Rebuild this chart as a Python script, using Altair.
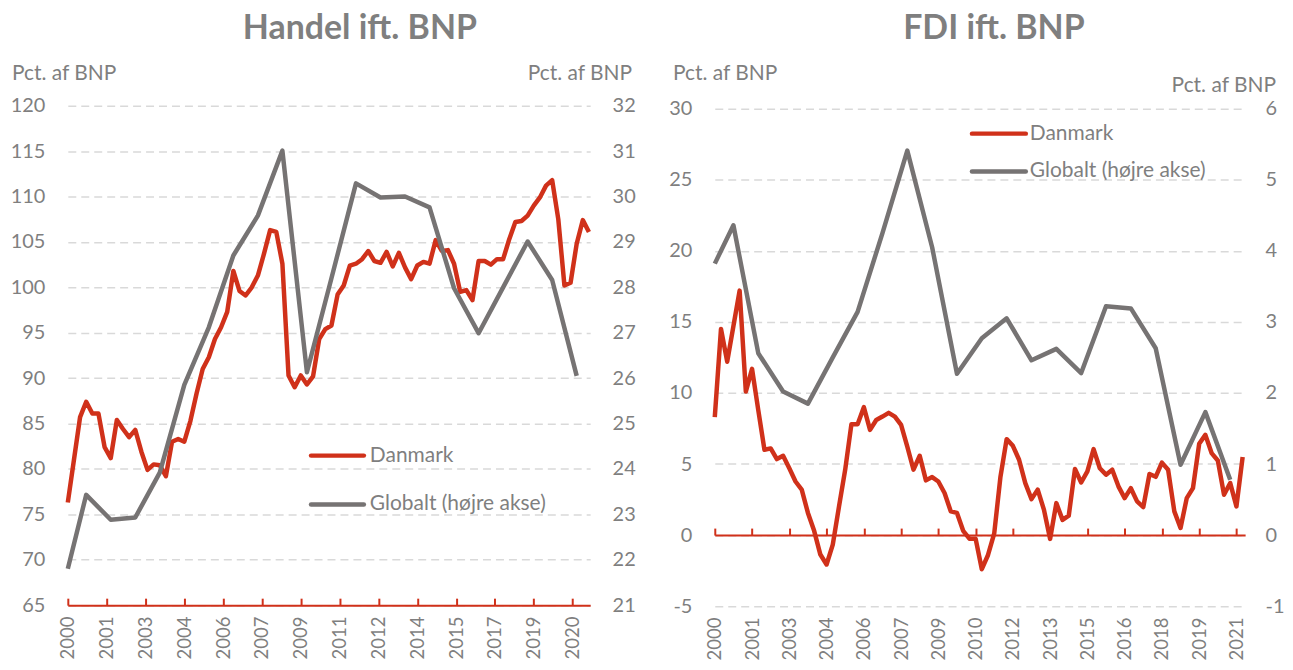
import altair as alt
import pandas as pd

# ---------------- data ----------------
# quarterly observations 2000K1 ... 2021K2 as decimal years
quarters = [2000 + i / 4 for i in range(86)]

handel_dk = [76.3, 81.0, 85.7, 87.4, 86.1, 86.1, 82.4, 81.2, 85.4, 84.4,
             83.5, 84.3, 81.9, 79.9, 80.5, 80.4, 79.2, 83.0, 83.3, 83.0,
             85.3, 88.3, 91.0, 92.3, 94.3, 95.6, 97.3, 101.8, 99.6, 99.1,
             100.0, 101.3, 103.7, 106.3, 106.1, 102.6, 90.3, 89.0, 90.3, 89.3,
             90.2, 94.3, 95.4, 95.8, 99.2, 100.2, 102.4, 102.6, 103.1, 104.0,
             102.9, 102.7, 103.9, 102.3, 103.8, 102.2, 100.9, 102.4, 102.8, 102.6,
             105.2, 104.0, 104.1, 102.6, 99.5, 99.7, 98.6, 102.9, 102.9, 102.5,
             103.1, 103.1, 105.3, 107.2, 107.3, 107.9, 109.0, 109.9, 111.2, 111.8,
             107.5, 100.2, 100.5, 104.8, 107.4, 106.1]

fdi_dk = [8.3, 14.5, 12.2, 14.7, 17.2, 10.1, 11.7, 8.8, 6.0, 6.1,
          5.35, 5.58, 4.7, 3.77, 3.2, 1.56, 0.3, -1.37, -2.07, -0.67,
          2.0, 4.6, 7.8, 7.8, 9.0, 7.4, 8.1, 8.34, 8.6, 8.34,
          7.75, 6.23, 4.6, 5.58, 3.85, 4.08, 3.77, 2.96, 1.67, 1.56,
          0.3, -0.25, -0.25, -2.4, -1.4, 0.12, 4.1, 6.75, 6.28, 5.3,
          3.66, 2.53, 3.2, 1.79, -0.27, 2.25, 1.07, 1.37, 4.65, 3.7,
          4.48, 6.05, 4.7, 4.25, 4.6, 3.43, 2.6, 3.3, 2.37, 1.97,
          4.3, 4.1, 5.1, 4.6, 1.67, 0.5, 2.6, 3.3, 6.42, 7.05,
          5.77, 5.25, 2.84, 3.66, 2.02, 5.5]

# annual global series, placed in the 4th quarter of each year
global_t = [2000.0, 2000.75, 2001.75, 2002.75, 2003.75, 2004.75, 2005.75,
            2006.75, 2007.75, 2008.75, 2009.75, 2010.75, 2011.75, 2012.75,
            2013.75, 2014.75, 2015.75, 2016.75, 2017.75, 2018.75, 2019.75,
            2020.75]
handel_gl = [21.8, 23.43, 22.88, 22.93, 23.92, 25.85, 27.12, 28.7, 29.58,
             31.01, 26.13, 28.2, 30.29, 29.98, 30.0, 29.76, 27.98, 26.99,
             28.0, 29.01, 28.16, 26.05]
fdi_gl = [3.82, 4.36, 2.56, 2.02, 1.85, 2.5, 3.14, 4.25, 5.41, 4.05, 2.27,
          2.77, 3.05, 2.46, 2.62, 2.28, 3.22, 3.19, 2.63, 0.99, 1.73, 0.78]

# x-axis tick positions (labels show the year)
ticks_handel = [2000.0, 2001.583, 2003.167, 2004.75, 2006.333, 2007.917,
                2009.5, 2011.083, 2012.667, 2014.25, 2015.833, 2017.417,
                2019.0, 2020.583]
ticks_fdi = [2000.0, 2001.5, 2003.0, 2004.5, 2006.0, 2007.5, 2009.0, 2010.5,
             2012.0, 2013.5, 2015.0, 2016.5, 2018.0, 2019.5, 2021.0]

titles = ["Handel ift. BNP", "FDI ift. BNP"]
axis_title = "Pct. af BNP"
series_names = ["Danmark", "Globalt (højre akse)"]

# ---------------- style ----------------
FONT = "Lato"
TXT = "#7f7f7f"
RED = "#d0311a"
GREY = "#767373"
GRID = "#d9d9d9"
NUM = "datum.value < 0 ? '-' + abs(datum.value) : '' + datum.value"
YEAR = "'' + floor(datum.value + 0.001)"
one = pd.DataFrame({"a": [0]})


def panel(dk, gl, W, H, yr, ldom, lvals, rdom, rvals, xdom, xvals, zero_off,
          title, title_x, lt_x, lt_y, rt_x, rt_y, leg_x1, leg_x2, leg_tx, leg_y,
          rpad):
    df_dk = pd.DataFrame({"t": quarters, "v": dk})
    df_gl = pd.DataFrame({"t": global_t, "v": gl})
    xs = alt.Scale(domain=xdom, nice=False, zero=False)

    red = alt.Chart(df_dk).mark_line(color=RED, strokeWidth=4.5, strokeJoin="round").encode(
        x=alt.X("t:Q", scale=xs, axis=alt.Axis(
            orient="bottom", values=xvals, labelExpr=YEAR, labelAngle=270,
            labelPadding=11, domain=False, ticks=False, grid=False, title=None,
            labelFlush=False, labelOverlap=False, labelFontSize=18.5,
            labelColor=TXT, labelFont=FONT)),
        y=alt.Y("v:Q", scale=alt.Scale(domain=ldom, nice=False, zero=False, range=yr),
                axis=alt.Axis(orient="left", values=lvals, labelExpr=NUM, grid=True,
                              gridDash=[8, 5], gridColor=GRID, gridWidth=1.5,
                              domain=False, ticks=False, labelPadding=23, title=None,
                              labelFontSize=20, labelColor=TXT, labelFont=FONT)),
    )
    grey = alt.Chart(df_gl).mark_line(color=GREY, strokeWidth=4.5, strokeJoin="round").encode(
        x=alt.X("t:Q", scale=xs, axis=alt.Axis(
            orient="top", offset=-zero_off, values=xvals, labels=False, ticks=True,
            tickSize=7, tickColor=RED, tickWidth=2, domain=True, domainColor=RED,
            domainWidth=2, grid=False, title=None, zindex=1)),
        y=alt.Y("v:Q", scale=alt.Scale(domain=rdom, nice=False, zero=False, range=yr),
                axis=alt.Axis(orient="right", values=rvals, labelExpr=NUM, grid=False,
                              domain=False, ticks=False, labelPadding=rpad, title=None,
                              labelFontSize=20, labelColor=TXT, labelFont=FONT)),
    )

    def txt(text, x, y, align="left", size=21, weight="normal"):
        return alt.Chart(one).mark_text(
            text=text, align=align, baseline="middle", font=FONT, fontSize=size,
            fontWeight=weight, color=TXT).encode(x=alt.value(x), y=alt.value(y))

    def rule(color, y):
        return alt.Chart(one).mark_rule(color=color, strokeWidth=4.5, strokeCap="round").encode(
            x=alt.value(leg_x1), x2=alt.value(leg_x2), y=alt.value(y))

    layers = [
        red, grey,
        txt(title, title_x, -77, align="center", size=34, weight="bold"),
        txt(axis_title, lt_x, lt_y),
        txt(axis_title, rt_x, rt_y, align="right"),
        rule(RED, leg_y[0]), rule(GREY, leg_y[1]),
        txt(series_names[0], leg_tx, leg_y[0]),
        txt(series_names[1], leg_tx, leg_y[1]),
    ]
    return alt.layer(*layers).resolve_scale(y="independent").resolve_axis(
        x="independent", y="independent").properties(width=W, height=H)


left = panel(handel_dk, handel_gl, 524, 501, [501, 0],
             [65, 120], list(range(65, 121, 5)), [21, 32], list(range(21, 33)),
             [2000, 2021.3], ticks_handel, 501,
             titles[0], 293, -56, -32, 566, -32,
             244, 297, 303, [351, 400], 22)

right = panel(fdi_dk, fdi_gl, 532, 502, [502, 3],
              [-5, 30], list(range(-5, 31, 5)), [-1, 6], list(range(-1, 7)),
              [2000, 2021.35], ticks_fdi, 430.7,
              titles[1], 280, -42, -32, 563, -20,
              258, 312, 316, [28, 66], 20)

chart = alt.hconcat(left, right, spacing=32).properties(
    padding={"left": 2, "top": 3, "right": 0, "bottom": 0}
).configure_view(stroke=None)

chart.save("out.html", embed_options={"renderer": "svg", "actions": False})
